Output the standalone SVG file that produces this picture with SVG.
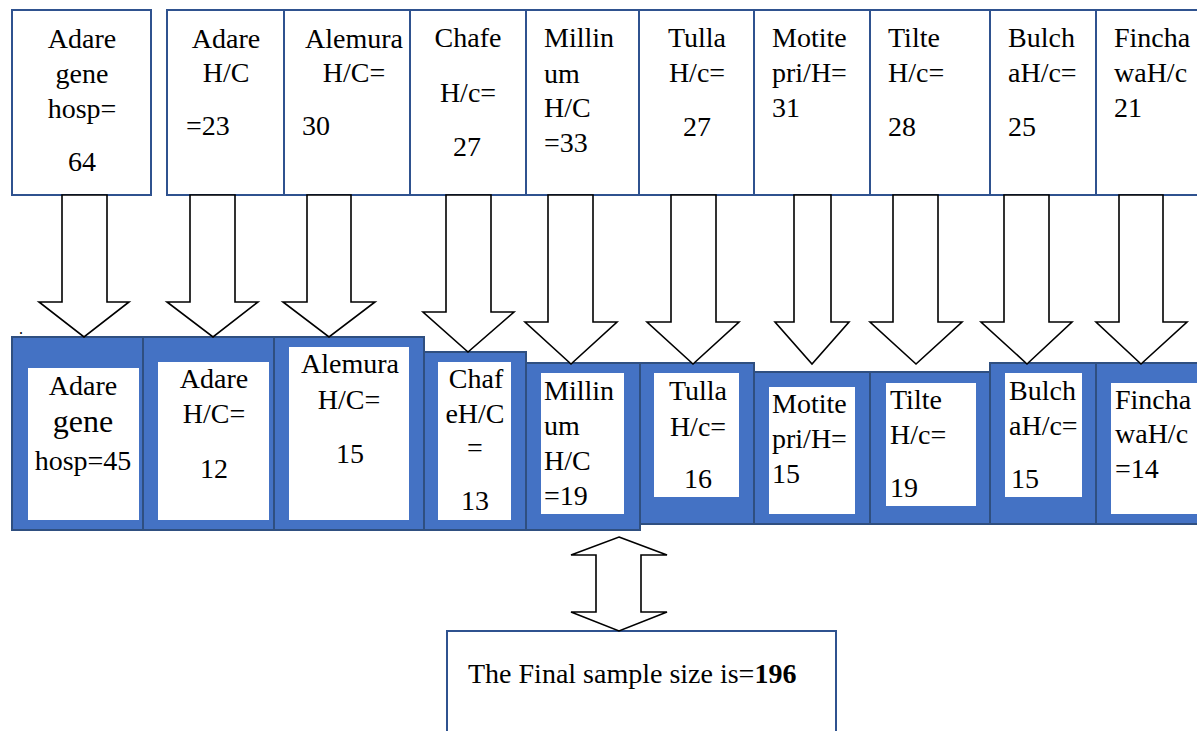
<svg xmlns="http://www.w3.org/2000/svg" width="1197" height="731" viewBox="0 0 1197 731">
<style>
text{font-family:"Liberation Serif","Times New Roman",serif;font-size:28px;fill:#000}
.c{text-anchor:middle}
.top{fill:#fff;stroke:#2F528F;stroke-width:2}
.blue{fill:#4472C4;stroke:#2F4F80;stroke-width:2}
.inner{fill:#fff}
.arr{fill:#fff;stroke:#000;stroke-width:1.6;stroke-linejoin:miter}
</style>
<rect width="1197" height="731" fill="#fff"/>
<g id="top-nodes">
<g id="t1"><rect class="top" x="12" y="10" width="139" height="185"/>
<text class="c" x="82" y="48">Adare</text><text class="c" x="82" y="83">gene</text><text class="c" x="82" y="118">hosp=</text><text class="c" x="82" y="171">64</text></g>
<g id="t2"><rect class="top" x="167" y="10" width="117" height="185"/>
<text class="c" x="226" y="48">Adare</text><text class="c" x="226" y="82">H/C</text><text x="186" y="135">=23</text></g>
<g id="t3"><rect class="top" x="284" y="10" width="126" height="185"/>
<text x="305" y="48">Alemura</text><text class="c" x="354" y="82">H/C=</text><text x="302" y="135">30</text></g>
<g id="t4"><rect class="top" x="410" y="10" width="116" height="185"/>
<text class="c" x="468" y="47">Chafe</text><text class="c" x="468" y="102">H/c=</text><text class="c" x="467" y="156">27</text></g>
<g id="t5"><rect class="top" x="526" y="10" width="113" height="185"/>
<text x="544" y="47">Millin</text><text x="544" y="83">um</text><text x="544" y="117">H/C</text><text x="544" y="152">=33</text></g>
<g id="t6"><rect class="top" x="639" y="10" width="115" height="185"/>
<text class="c" x="697" y="47">Tulla</text><text class="c" x="697" y="82">H/c=</text><text class="c" x="697" y="136">27</text></g>
<g id="t7"><rect class="top" x="754" y="10" width="116" height="185"/>
<text x="772" y="47">Motite</text><text x="772" y="82">pri/H=</text><text x="772" y="117">31</text></g>
<g id="t8"><rect class="top" x="870" y="10" width="120" height="185"/>
<text x="888" y="47">Tilte</text><text x="888" y="82">H/c=</text><text x="888" y="136">28</text></g>
<g id="t9"><rect class="top" x="990" y="10" width="106" height="185"/>
<text x="1008" y="47">Bulch</text><text x="1008" y="82">aH/c=</text><text x="1008" y="136">25</text></g>
<g id="t10"><rect class="top" x="1096" y="10" width="110" height="185"/>
<text x="1114" y="47">Fincha</text><text x="1114" y="82">waH/c</text><text x="1114" y="117">21</text></g>
</g>
<text x="19" y="334" style="font-size:16px">.</text>
<g id="bottom-nodes">
<g id="b1"><rect class="blue" x="12" y="337" width="131" height="193"/><rect class="inner" x="28" y="368" width="111" height="152"/>
<text class="c" x="83" y="395">Adare</text><text class="c" x="83" y="432" style="font-size:32px">gene</text><text class="c" x="83" y="470">hosp=45</text></g>
<g id="b2"><rect class="blue" x="143" y="337" width="131" height="193"/><rect class="inner" x="158" y="362" width="111" height="158"/>
<text class="c" x="214" y="388">Adare</text><text class="c" x="214" y="423">H/C=</text><text class="c" x="214" y="478">12</text></g>
<g id="b3"><rect class="blue" x="274" y="337" width="150" height="193"/><rect class="inner" x="289" y="347" width="120" height="173"/>
<text class="c" x="350" y="373">Alemura</text><text class="c" x="349" y="409">H/C=</text><text class="c" x="350" y="463">15</text></g>
<g id="b4"><rect class="blue" x="424" y="352" width="102" height="178"/><rect class="inner" x="438" y="362" width="73" height="158"/>
<text class="c" x="476" y="388">Chaf</text><text class="c" x="475" y="423">eH/C</text><text class="c" x="475" y="457">=</text><text class="c" x="475" y="510">13</text></g>
<g id="b5"><rect class="blue" x="526" y="363" width="114" height="167"/><rect class="inner" x="541" y="373" width="83" height="141"/>
<text x="544" y="400">Millin</text><text x="544" y="435">um</text><text x="544" y="470">H/C</text><text x="544" y="505">=19</text></g>
<g id="b6"><rect class="blue" x="640" y="363" width="114" height="161"/><rect class="inner" x="654" y="373" width="85" height="124"/>
<text class="c" x="698" y="400">Tulla</text><text class="c" x="698" y="436">H/c=</text><text class="c" x="698" y="488">16</text></g>
<g id="b7"><rect class="blue" x="754" y="372" width="116" height="152"/><rect class="inner" x="769" y="387" width="86" height="127"/>
<text x="772" y="413">Motite</text><text x="772" y="448">pri/H=</text><text x="772" y="483">15</text></g>
<g id="b8"><rect class="blue" x="870" y="372" width="120" height="152"/><rect class="inner" x="886" y="383" width="90" height="123"/>
<text x="890" y="409">Tilte</text><text x="890" y="444">H/c=</text><text x="890" y="497">19</text></g>
<g id="b9"><rect class="blue" x="990" y="363" width="106" height="161"/><rect class="inner" x="1005" y="373" width="77" height="124"/>
<text x="1009" y="400">Bulch</text><text x="1009" y="435">aH/c=</text><text x="1011" y="488">15</text></g>
<g id="b10"><rect class="blue" x="1096" y="363" width="110" height="161"/><rect class="inner" x="1111" y="383" width="95" height="131"/>
<text x="1115" y="409">Fincha</text><text x="1115" y="443">waH/c</text><text x="1115" y="478">=14</text></g>
</g>
<g id="final">
<rect class="top" x="447" y="631" width="389" height="115"/>
<text x="468" y="683">The Final sample size is=<tspan font-weight="bold">196</tspan></text>
</g>
<g id="connectors">
<polygon class="arr" points="62,195 107,195 107,302 129,302 84,337 39,302 62,302"/>
<polygon class="arr" points="190,195 235,195 235,302 258,302 213,337 167,302 190,302"/>
<polygon class="arr" points="307,195 351,195 351,302 375,302 329,337 283,302 307,302"/>
<polygon class="arr" points="446,195 491,195 491,312 514,312 468,352 423,312 446,312"/>
<polygon class="arr" points="548,195 593,195 593,322 617,322 571,364 525,322 548,322"/>
<polygon class="arr" points="671,195 716,195 716,322 739,322 693,364 647,322 671,322"/>
<polygon class="arr" points="794,195 831,195 831,322 849,322 812,364 775,322 794,322"/>
<polygon class="arr" points="893,195 938,195 938,322 962,322 916,364 870,322 893,322"/>
<polygon class="arr" points="1004,195 1049,195 1049,322 1072,322 1027,364 981,322 1004,322"/>
<polygon class="arr" points="1119,195 1163,195 1163,322 1187,322 1141,364 1096,322 1119,322"/>
<polygon class="arr" points="619,537 667,555 641,555 641,612 667,612 619,631 571,612 596,612 596,555 571,555"/>
</g>
</svg>
